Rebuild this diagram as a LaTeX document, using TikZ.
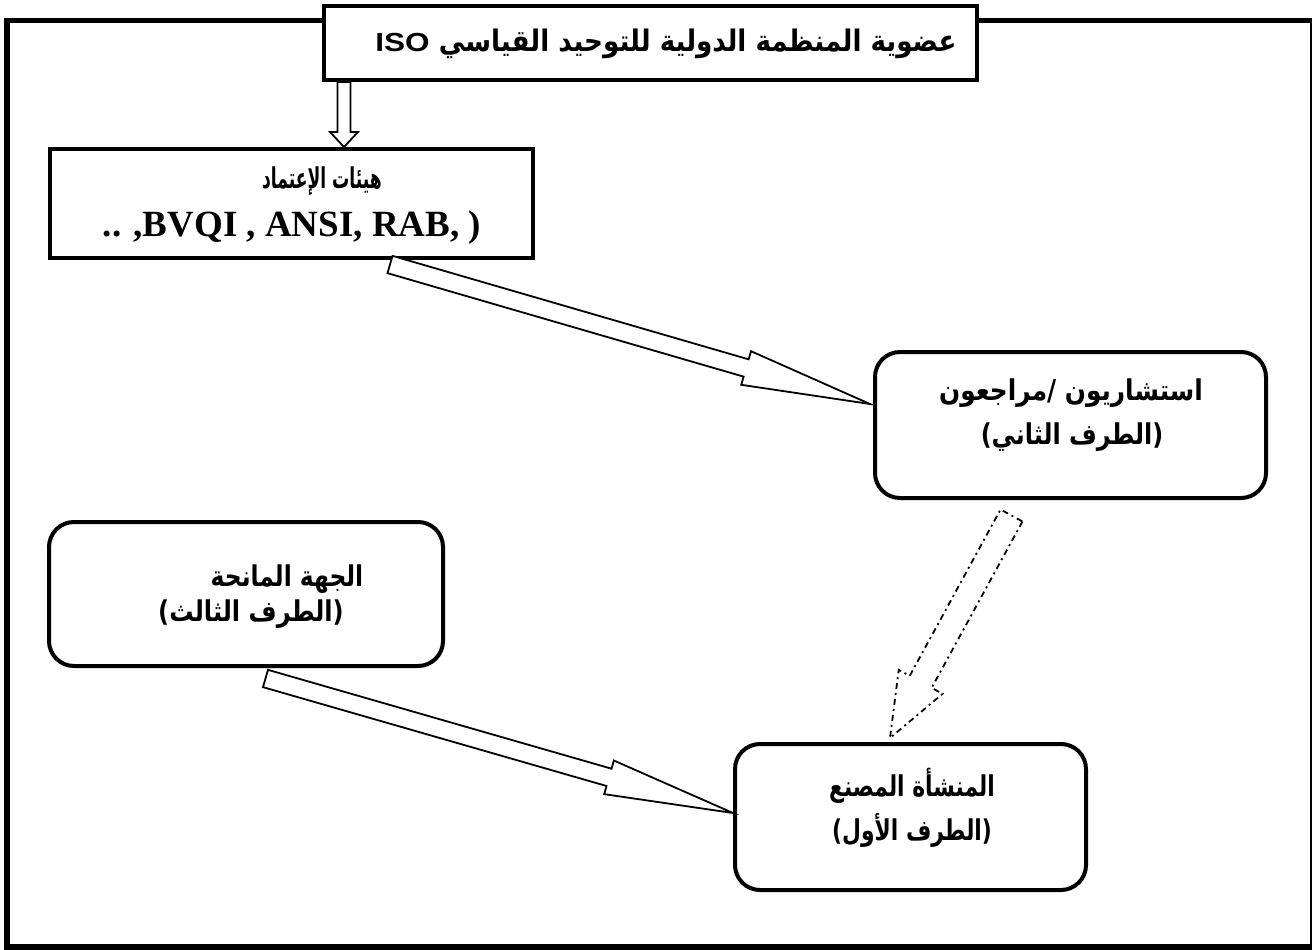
\documentclass[tikz,border=0pt]{standalone}
\usepackage{fontspec}
\usepackage{graphicx}
\usetikzlibrary{calc}
\TeXXeTstate=1
\newfontfamily\arabicfont[Script=Arabic]{DejaVu Sans}
\newfontfamily\latinsans{Liberation Sans}
\newfontfamily\latinserif{Liberation Serif}

% outlined block arrow: #1 style, #2 tail centre, #3 tip,
% #4 shaft half width, #5 head half width, #6 head length
\newcommand\blockarrow[6]{%
  \path ($(#3)!#6!(#2)$) coordinate (#2-base);
  \draw[#1] ($(#2)!#4!90:(#3)$) -- ($(#2-base)!#4!90:(#3)$)
    -- ($(#2-base)!#5!90:(#3)$) -- (#3)
    -- ($(#2-base)!#5!-90:(#3)$) -- ($(#2-base)!#4!-90:(#3)$)
    -- ($(#2)!#4!-90:(#3)$) -- cycle;
}
% a text line squeezed horizontally by #1 and stretched a little in height
\newcommand\sqz[2]{\scalebox{#1}[1.1]{#2}}

\tikzset{
  sqbox/.style={draw, fill=white, line width=4pt, inner sep=0pt},
  rbox/.style={draw, fill=white, line width=4pt, rounded corners=25pt, inner sep=0pt},
  artext/.style={font=\arabicfont\bfseries\fontsize{26}{30}\selectfont, inner sep=0pt},
  titletext/.style={font=\arabicfont\bfseries\fontsize{27}{31}\selectfont, inner sep=0pt},
  lattext/.style={font=\latinserif\bfseries\fontsize{37}{40}\selectfont, inner sep=0pt},
  solidarrow/.style={draw, fill=white, line width=1.8pt, line join=miter},
  dotarrow/.style={draw, fill=white, line width=1.8pt, line join=miter,
    dash pattern=on 6pt off 4pt on 2pt off 4pt},
}

\begin{document}
\begin{tikzpicture}[x=1pt, y=-1pt]
\useasboundingbox (0,0) rectangle (1312,950);
\fill[white] (0,0) rectangle (1312,950);

% outer frame
\draw[line width=5pt] (1310.5,20.5) -- (7,20.5);
\draw[line width=6pt] (7,18) -- (7,947) -- (1311.5,947);
\draw[line width=2pt] (1310.5,18) -- (1310.5,950);

% boxes
\node[sqbox, minimum width=653pt, minimum height=74pt] (title) at (650.5,43) {};
\node[sqbox, minimum width=483pt, minimum height=109pt] (hay) at (291.5,203.5) {};
\node[rbox, minimum width=391pt, minimum height=146pt] (cons) at (1070.5,425) {};
\node[rbox, minimum width=394pt, minimum height=144pt] (grant) at (246,594) {};
\node[rbox, minimum width=351pt, minimum height=146pt] (fact) at (910.5,817) {};

% texts
\node[titletext] (titlelbl) at (666,44)
  {\sqz{0.97}{\beginR عضوية المنظمة الدولية للتوحيد القياسي \beginL{\latinsans\bfseries\fontsize{25}{28}\selectfont\scalebox{1.3}[0.95]{ISO}}\endL\endR}};
\node[artext] (hay1) at (322,181) {\sqz{0.66}{\beginR هيئات الإعتماد\endR}};
\node[lattext] (hay2) at (292,228) {.. ,BVQI , ANSI, RAB, )};
\node[artext] (cons1) at (1071,393) {\sqz{0.955}{\beginR استشاريون /مراجعون\endR}};
\node[artext] (cons2) at (1072,437) {\sqz{0.92}{\beginR (الطرف الثاني)\endR}};
\node[artext] (grant1) at (287,579) {\sqz{0.9}{\beginR الجهة المانحة\endR}};
\node[artext] (grant2) at (251,614) {\sqz{0.93}{\beginR (الطرف الثالث)\endR}};
\node[artext] (fact1) at (912,786) {\sqz{0.84}{\beginR المنشأة المصنع\endR}};
\node[artext] (fact2) at (912,830) {\sqz{0.84}{\beginR (الطرف الأول)\endR}};

% arrow end points
\coordinate (a1s) at ([xshift=22pt]title.south west);
\coordinate (a1e) at (a1s |- hay.north);
\coordinate (a2s) at ([xshift=342pt, yshift=-4.5pt]hay.south west);
\coordinate (a2e) at ([xshift=-3pt, yshift=21pt]cons.west);
\coordinate (a3s) at ([xshift=218.5pt, yshift=-10.5pt]grant.south west);
\coordinate (a3e) at ([yshift=4pt]fact.west);
\coordinate (a4s) at ([xshift=-59pt, yshift=-15.5pt]cons.south);
\coordinate (a4e) at ([xshift=-20.5pt, yshift=4pt]fact.north);

% arrows
\blockarrow{solidarrow}{a1s}{a1e}{6.5pt}{14pt}{15pt}
\blockarrow{solidarrow}{a2s}{a2e}{9pt}{17.5pt}{129pt}
\blockarrow{solidarrow}{a3s}{a3e}{9pt}{17.5pt}{129pt}
\blockarrow{dotarrow}{a4s}{a4e}{12.5pt}{25pt}{64pt}
\end{tikzpicture}
\end{document}
